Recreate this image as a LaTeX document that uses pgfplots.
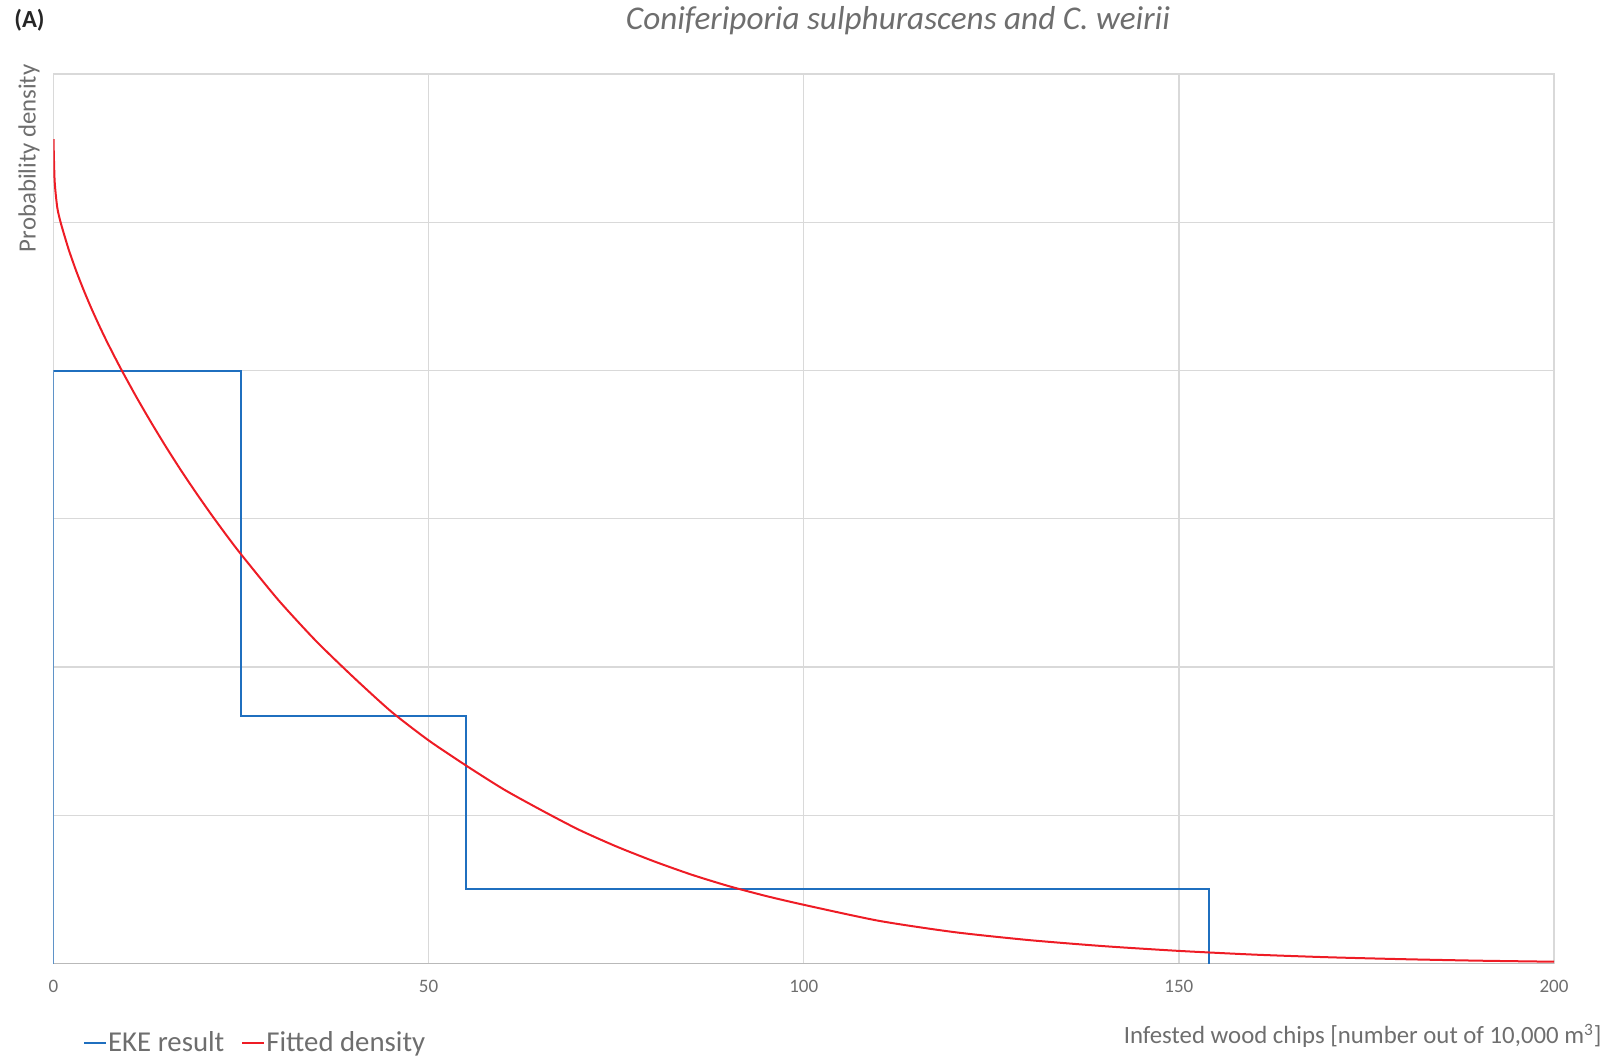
\documentclass[border=0pt]{standalone}
\usepackage{fontspec}
\setmainfont{Carlito}
\usepackage{pgfplots}
\pgfplotsset{compat=1.18}
\definecolor{gridc}{HTML}{D9D9D9}
\definecolor{txt}{HTML}{6E6E6E}
\definecolor{eke}{HTML}{1F6FBF}
\definecolor{fit}{HTML}{EE1C25}
\begin{document}
\begin{tikzpicture}
\path[use as bounding box] (-26.75pt,-49.25pt) rectangle (780.25pt,481.75pt);
\begin{axis}[
  at={(0,0)}, anchor=south west,
  width=750.25pt, height=444.75pt, scale only axis,
  xmin=0, xmax=200, ymin=0, ymax=6,
  xtick={0,50,100,150,200},
  ytick={0,1,2,3,4,5,6},
  yticklabels={},
  major tick length=0pt,
  grid=major,
  major grid style={draw=gridc, line width=0.7pt},
  axis line style={draw=gridc, line width=0.7pt},
  /pgf/number format/assume math mode=true,
  xticklabel style={font=\fontsize{9.5}{11}\selectfont, text=txt, yshift=-5pt},
  legend style={at={(0.0195,-0.0894)}, anchor=west, draw=none, fill=none,
    font=\fontsize{14.4}{16}\selectfont, text=txt, legend columns=2,
    inner sep=0pt, nodes={inner xsep=0.5pt},
    /tikz/every even column/.append style={column sep=8pt}},
  legend cell align=left,
  legend image code/.code={\draw[#1] (0pt,0pt) -- (11pt,0pt);},
]
\draw[color=gray!55, line width=0.7pt] (axis cs:0,0) -- (axis cs:200,0);
\addplot[color=eke, line width=1pt] coordinates {
  (0,0) (0,4) (25,4) (25,1.6667) (55,1.6667) (55,0.50505) (154,0.50505) (154,0)
};
\addlegendentry{EKE result}
\addplot[color=fit, line width=1pt, smooth, tension=0.4] coordinates {
  (0,5.56) (0.15,5.28) (0.5,5.10) (1,4.99) (2,4.82) (3,4.675) (4,4.545)
  (5,4.425) (6,4.313) (7,4.207) (8,4.107) (9,4.01) (11,3.8255) (13,3.651)
  (15,3.4845) (17,3.326) (19,3.1755) (21,3.031) (23,2.8925) (25,2.76)
  (30,2.45) (35,2.175) (40,1.93) (45,1.70) (50,1.505) (55,1.335) (60,1.175)
  (65,1.035) (70,0.903) (75,0.79) (80,0.69) (85,0.60) (90,0.522) (95,0.455)
  (100,0.396) (110,0.288) (120,0.212) (130,0.158) (140,0.117) (150,0.085)
  (160,0.060) (170,0.042) (180,0.029) (190,0.019) (200,0.012)
};
\addlegendentry{Fitted density}
\end{axis}
\node[anchor=center, text=txt, font=\fontsize{16.6}{19}\selectfont\itshape] at (422.25pt,471.45pt) {Coniferiporia sulphurascens and C. weirii};
\node[anchor=west, inner sep=0pt, text=black!85, font=\fontsize{12.3}{14}\selectfont\bfseries] at (-19.75pt,471.75pt) {(A)};
\node[rotate=90, anchor=east, inner sep=0pt, text=txt, font=\fontsize{12.4}{14}\selectfont] at (-12.25pt,449.75pt) {Probability density};
\node[anchor=east, inner sep=0pt, text=txt, font=\fontsize{12.4}{14}\selectfont] at (774.25pt,-36.25pt) {Infested wood chips [number out of 10,000 m\textsuperscript{3}]};
\end{tikzpicture}
\end{document}
